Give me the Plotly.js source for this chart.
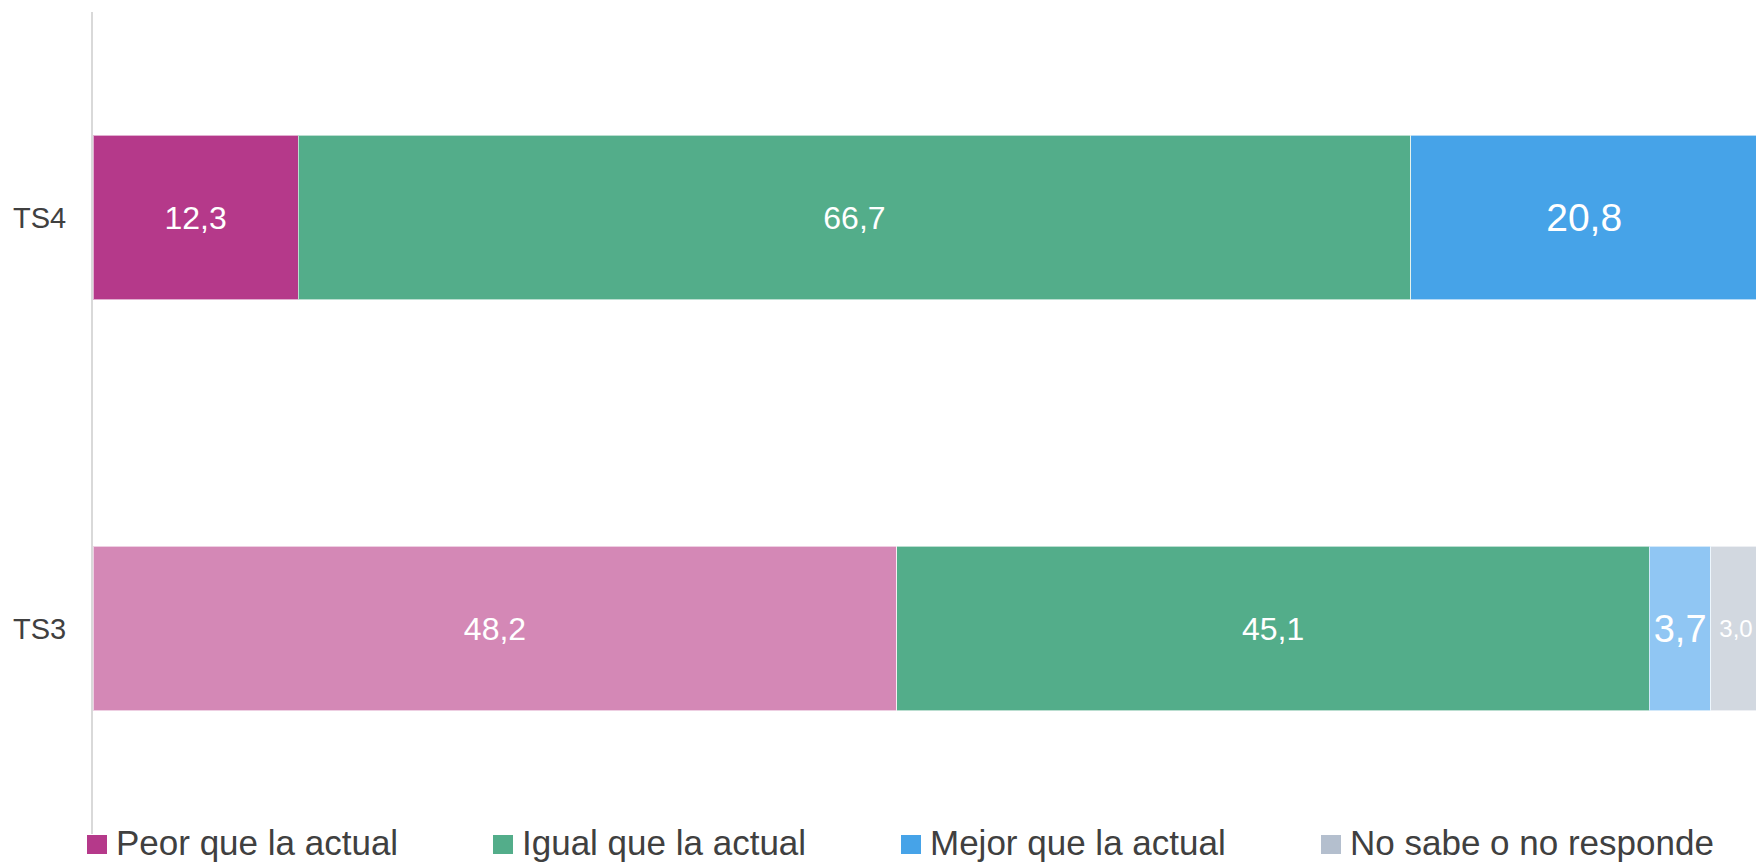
<!DOCTYPE html>
<html>
<head>
<meta charset="utf-8">
<script src="https://cdn.plot.ly/plotly-3.0.1.min.js"></script>
<style>
  html, body { margin: 0; padding: 0; background: #ffffff; overflow: hidden; }
  #chart { width: 1756px; height: 863px; }
</style>
</head>
<body>
<div id="chart"></div>
<script>
// ---- data ----
const categories = ['TS4', 'TS3'];
const seriesNames = ['Peor que la actual', 'Igual que la actual', 'Mejor que la actual', 'No sabe o no responde'];
const peor  = [12.3, 48.2];
const igual = [66.7, 45.1];
const mejor = [20.8, 3.7];
const nsnr  = [null, 3.0];

// ---- styles ----
const barColors = [
  ['#B5398A', '#D488B6'],
  ['#53AD8A', '#53AD8A'],
  ['#46A3E8', '#90C6F3'],
  ['#D2D8E0', '#D2D8E0']
];
const legendColors = ['#B5398A', '#53AD8A', '#46A3E8', '#B4BFCE'];
const labelSizes = [[32, 32], [32, 32], [39, 38], [24, 24]];
const FONT = '"Liberation Sans", Arial, sans-serif';

const W = 1756, H = 863;
const M = { l: 93, r: 0, t: 12, b: 29 };
const plotW = W - M.l - M.r, plotH = H - M.t - M.b;
const px2x = p => (p - M.l) / plotW;
const px2y = p => (H - M.b - p) / plotH;

const allSeries = [peor, igual, mejor, nsnr];
const traces = allSeries.map((vals, i) => ({
  type: 'bar',
  orientation: 'h',
  name: seriesNames[i],
  y: categories,
  x: vals,
  marker: { color: barColors[i], line: { color: 'rgba(255,255,255,0.6)', width: 1 } },
  texttemplate: '%{x:.1f}',
  textposition: 'inside',
  insidetextanchor: 'middle',
  textangle: 0,
  textfont: { family: FONT, color: '#ffffff', size: labelSizes[i] },
  hoverinfo: 'skip',
  showlegend: false
}));

// custom legend
const legendX = [87, 493, 901, 1321];
const shapes = [], annotations = [];
seriesNames.forEach((n, i) => {
  shapes.push({
    type: 'rect', xref: 'paper', yref: 'paper',
    x0: px2x(legendX[i]), x1: px2x(legendX[i] + 20),
    y0: px2y(854), y1: px2y(835),
    fillcolor: legendColors[i], line: { width: 0 }
  });
  annotations.push({
    xref: 'paper', yref: 'paper',
    x: px2x(legendX[i] + 28), y: px2y(842),
    xanchor: 'left', yanchor: 'middle',
    text: n, showarrow: false, borderpad: 0,
    font: { family: FONT, size: 35, color: '#404040' }
  });
});

const layout = {
  width: W, height: H,
  margin: M,
  paper_bgcolor: '#ffffff',
  plot_bgcolor: '#ffffff',
  barmode: 'stack',
  bargap: 0.6,
  separators: ',.',
  showlegend: false,
  font: { family: FONT },
  xaxis: {
    range: [0, 99.7], fixedrange: true,
    showgrid: false, zeroline: false, showticklabels: false, showline: false
  },
  yaxis: {
    type: 'category',
    range: [1.5, -0.5], autorange: false,
    showgrid: false, zeroline: false,
    showline: true, linecolor: '#D9D9D9', linewidth: 2,
    ticks: '', ticklabelstandoff: 19,
    tickfont: { family: FONT, size: 29, color: '#404040' }
  },
  shapes: shapes,
  annotations: annotations
};

Plotly.newPlot('chart', traces, layout, { displayModeBar: false, staticPlot: true });
</script>
</body>
</html>
